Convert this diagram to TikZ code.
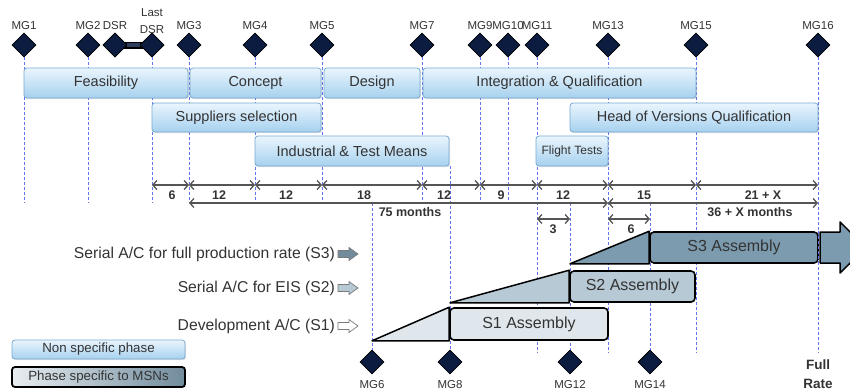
\documentclass[tikz,border=0pt]{standalone}
\usepackage{fontspec}
\setmainfont{Liberation Sans}
\usetikzlibrary{shapes.geometric,shadows,arrows.meta}

\definecolor{msfill}{HTML}{0C1C40}
\definecolor{txt}{HTML}{333333}
\definecolor{guidecol}{HTML}{6272F0}
\definecolor{phline}{HTML}{78AAD2}
\definecolor{phtop}{HTML}{EAF5FD}
\definecolor{phbot}{HTML}{A6D1EF}
\definecolor{dimcol}{HTML}{555555}
\definecolor{sonefill}{HTML}{DFE7EC}
\definecolor{stwofill}{HTML}{B7C9D4}
\definecolor{sthreefill}{HTML}{7D9BAE}
\definecolor{iconline}{HTML}{7A7A7A}

\tikzset{
  ms/.style={diamond, aspect=1, minimum width=24pt, minimum height=24pt,
    inner sep=0pt, fill=msfill, draw=black, line width=0.8pt},
  mglab/.style={font=\fontsize{11.5}{17}\selectfont, text=txt, inner sep=0pt, align=center},
  guide/.style={draw=guidecol, line width=0.8pt, dash pattern=on 3pt off 2pt},
  phase/.style={rounded corners=3pt, draw=phline, line width=0.8pt,
    top color=phtop, bottom color=phbot, text=txt, inner sep=0pt,
    font=\fontsize{14.5}{16}\selectfont,
    drop shadow={opacity=0.25, shadow xshift=1.2pt, shadow yshift=-1.2pt}},
  dim/.style={draw=dimcol, line width=1.3pt,
    {Straight Barb[length=4pt,width=9pt]}-{Straight Barb[length=4pt,width=9pt]}},
  dimlab/.style={font=\bfseries\fontsize{12.5}{14}\selectfont, text=txt, inner sep=0pt},
  rowlab/.style={font=\fontsize{15.7}{18}\selectfont, text=txt, inner sep=0pt, anchor=east},
  iconarrow/.style={draw=iconline, line width=0.7pt, line join=miter},
  asm/.style={rounded corners=4pt, draw=black, line width=1.6pt, text=txt,
    inner sep=0pt, font=\fontsize{16}{18}\selectfont},
  ramp/.style={draw=black, line width=1.5pt, line join=round},
  msnleg/.style={rounded corners=3pt, draw=black, line width=1.8pt,
    left color=sonefill!70!white, right color=sthreefill!90!black, text=txt,
    inner sep=0pt, font=\fontsize{13.3}{15}\selectfont},
}

\begin{document}
\begin{tikzpicture}[x=1pt, y=-1pt]
\useasboundingbox (0,0) rectangle (850,391);

% reference rows
\coordinate (r0) at (0,166);
\coordinate (r1) at (0,185);
\coordinate (r2) at (0,203);
\coordinate (r3) at (0,219);
\coordinate (rb) at (0,353);

% top milestones
\node[ms] (mg1) at (24,45) {};
\node[ms] (mg2) at (88,45) {};
\node[ms] (dsr) at (115,45) {};
\node[ms] (lastdsr) at (152,45) {};
\node[ms] (mg3) at (189,45) {};
\node[ms] (mg4) at (255,45) {};
\node[ms] (mg5) at (322,45) {};
\node[ms] (mg7) at (422,45) {};
\node[ms] (mg9) at (480,45) {};
\node[ms] (mg10) at (508,45) {};
\node[ms] (mg11) at (537,45) {};
\node[ms] (mg13) at (608,45) {};
\node[ms] (mg15) at (696,45) {};
\node[ms] (mg16) at (818,45) {};

% DSR period bar
\draw[line width=7pt, black] (dsr.center) -- (lastdsr.center);
\draw[line width=4pt, msfill!85!white] (dsr.east) -- (lastdsr.west);
\node[ms] at (dsr) {};
\node[ms] at (lastdsr) {};

% bottom milestones
\node[ms] (mg6) at (372,362) {};
\node[ms] (mg8) at (450,362) {};
\node[ms] (mg12) at (570,362) {};
\node[ms] (mg14) at (650,362) {};

% milestone labels
\node[mglab] (t1) at (24,26) {MG1};
\node[mglab] (t2) at (88,26) {MG2};
\node[mglab] (tdsr) at (115,26) {DSR};
\node[mglab] (tldsr) at (152,20.8) {Last\\DSR};
\node[mglab] (t3) at (189,26) {MG3};
\node[mglab] (t4) at (255,26) {MG4};
\node[mglab] (t5) at (322,26) {MG5};
\node[mglab] (t7) at (422,26) {MG7};
\node[mglab] (t9) at (480,26) {MG9};
\node[mglab] (t10) at (508,26) {MG10};
\node[mglab] (t11) at (537,26) {MG11};
\node[mglab] (t13) at (608,26) {MG13};
\node[mglab] (t15) at (696,26) {MG15};
\node[mglab] (t16) at (818,26) {MG16};
\node[mglab] (t6) at (372,385) {MG6};
\node[mglab] (t8) at (450,385) {MG8};
\node[mglab] (t12) at (570,385) {MG12};
\node[mglab] (t14) at (650,385) {MG14};
\node[mglab, font=\bfseries\fontsize{13.5}{19}\selectfont] (full) at (818,374.5) {Full\\Rate};

% vertical guides
\foreach \m in {mg1,mg2,lastdsr,mg3,mg4,mg5,mg7,mg9,mg10}
  \draw[guide] (\m.south) -- (\m |- r2);
\foreach \m in {mg11,mg13,mg15,mg16}
  \draw[guide] (\m.south) -- (\m |- rb);
\foreach \m in {mg6,mg12,mg14}
  \draw[guide] (\m |- r2) -- (\m.north);
\draw[guide] (mg8 |- r0) -- (mg8.north);

% generic phases
\node[phase, minimum width=164pt, minimum height=30pt] (feas) at (106,83) {Feasibility};
\node[phase, minimum width=131pt, minimum height=30pt] (conc) at (255.5,83) {Concept};
\node[phase, minimum width=96pt, minimum height=30pt] (desi) at (372,83) {Design};
\node[phase, minimum width=273pt, minimum height=30pt] (intq) at (559.5,83) {Integration \& Qualification};
\node[phase, minimum width=169pt, minimum height=29pt] (supp) at (236.5,117.5) {Suppliers selection};
\node[phase, minimum width=248pt, minimum height=29pt] (hovq) at (694,117.5) {Head of Versions Qualification};
\node[phase, minimum width=194pt, minimum height=30pt] (ind) at (352,151) {Industrial \& Test Means};
\node[phase, minimum width=72pt, minimum height=30pt, font=\fontsize{12}{14}\selectfont] (flt) at (572,151) {Flight Tests};

% durations
\draw[dim] (lastdsr |- r1) -- (mg3 |- r1);
\draw[dim] (mg3 |- r1) -- (mg4 |- r1);
\draw[dim] (mg4 |- r1) -- (mg5 |- r1);
\draw[dim] (mg5 |- r1) -- (mg7 |- r1);
\draw[dim] (mg7 |- r1) -- (mg9 |- r1);
\draw[dim] (mg9 |- r1) -- (mg11 |- r1);
\draw[dim] (mg11 |- r1) -- (mg13 |- r1);
\draw[dim] (mg13 |- r1) -- (mg15 |- r1);
\draw[dim] (mg15 |- r1) -- (mg16 |- r1);
\draw[dim] (mg3 |- r2) -- (mg13 |- r2);
\draw[dim] (mg13 |- r2) -- (mg16 |- r2);
\draw[dim] (mg11 |- r3) -- (mg12 |- r3);
\draw[dim] (mg13 |- r3) -- (mg14 |- r3);

\node[dimlab] (d1) at (172,195) {6};
\node[dimlab] (d2) at (219,195) {12};
\node[dimlab] (d3) at (286,195) {12};
\node[dimlab] (d4) at (364,195) {18};
\node[dimlab] (d5) at (444,195) {12};
\node[dimlab] (d6) at (501,195) {9};
\node[dimlab] (d7) at (563,195) {12};
\node[dimlab] (d8) at (644,195) {15};
\node[dimlab] (d9) at (763,195) {21 + X};
\node[dimlab] (d10) at (410,212) {75 months};
\node[dimlab] (d11) at (750,212) {36 + X months};
\node[dimlab] (d12) at (553,229) {3};
\node[dimlab] (d13) at (631,229) {6};

% aircraft series with their block-arrow markers
\node[rowlab] (l3) at (335,254) {Serial A/C for full production rate (S3)};
\node[rowlab] (l2) at (335,288) {Serial A/C for EIS (S2)};
\node[rowlab] (l1) at (335,326) {Development A/C (S1)};
\foreach \yy/\col in {254/sthreefill!90!black, 288/stwofill, 326/white}
  \draw[iconarrow, fill=\col, shift={(348,\yy)}]
    (-10,-3.5) -- (1,-3.5) -- (1,-6.5) -- (10,0) -- (1,6.5) -- (1,3.5) -- (-10,3.5) -- cycle;

% assembly phases
\node[asm, fill=sonefill, minimum width=158pt, minimum height=32pt] (s1) at (529,324) {S1 Assembly};
\node[asm, fill=stwofill, minimum width=125pt, minimum height=31pt] (s2) at (632.5,286.5) {S2 Assembly};
\node[asm, fill=sthreefill, minimum width=168pt, minimum height=31pt] (s3) at (734,247.5) {S3 Assembly};
\draw[ramp, fill=sonefill] (mg6 |- s1.south) -- (s1.north west) -- (s1.south west) -- cycle;
\draw[ramp, fill=stwofill] (mg8 |- s2.south) -- (s2.north west) -- (s2.south west) -- cycle;
\draw[ramp, fill=sthreefill] (mg12 |- s3.south) -- (s3.north west) -- (s3.south west) -- cycle;
\draw[ramp, fill=sthreefill] (820,232) -- (840,232) -- (840,222) -- (866,247.5)
  -- (840,273) -- (840,263) -- (820,263) -- cycle;
\draw[guide] (mg16 |- s3.north) -- (mg16 |- s3.south);

% legend
\node[phase, minimum width=173pt, minimum height=19pt, font=\fontsize{13.3}{15}\selectfont] (leg1) at (98.5,349.5) {Non specific phase};
\node[msnleg, minimum width=173pt, minimum height=20pt] (leg2) at (98.5,377) {Phase specific to MSNs};
\end{tikzpicture}
\end{document}
